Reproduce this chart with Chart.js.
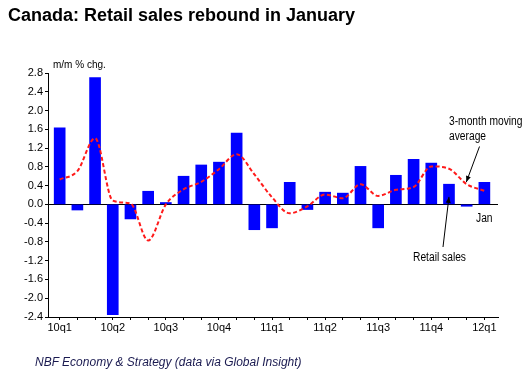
<!DOCTYPE html>
<html>
<head>
<meta charset="utf-8">
<script src="https://cdn.jsdelivr.net/npm/chart.js@4.4.1/dist/chart.umd.min.js"></script>
<style>
  html, body { margin:0; padding:0; background:#fff; }
  #wrap { position:relative; width:531px; height:374px; overflow:hidden; }
  canvas { position:absolute; left:0; top:0; }
  .t { position:absolute; white-space:nowrap; font-family:"Liberation Sans", Arial, sans-serif; color:#000; }
  .narrow { transform:scaleX(0.82); transform-origin:0 0; }
</style>
</head>
<body>
<div id="wrap">
  <canvas id="c" width="531" height="374"></canvas>
  <div class="t" style="left:8px;top:5px;font-size:18px;font-weight:bold;">Canada: Retail sales rebound in January</div>
  <div class="t" style="left:53px;top:59px;font-size:10px;">m/m % chg.</div>
  <div class="t narrow" style="left:449px;top:114px;font-size:12.5px;line-height:14.5px;">3-month moving<br>average</div>
  <div class="t narrow" style="left:476px;top:211px;font-size:12.5px;">Jan</div>
  <div class="t narrow" style="left:413px;top:250px;font-size:12.5px;">Retail sales</div>
  <div class="t" style="left:35px;top:355px;font-size:12px;font-style:italic;color:#1a1a50;">NBF Economy &amp; Strategy (data via Global Insight)</div>
</div>
<script>
// ---- data ----
const months = ["Jan10","Feb10","Mar10","Apr10","May10","Jun10","Jul10","Aug10","Sep10","Oct10","Nov10","Dec10",
                "Jan11","Feb11","Mar11","Apr11","May11","Jun11","Jul11","Aug11","Sep11","Oct11","Nov11","Dec11","Jan12"];
const quarterLabels = ["10q1","10q2","10q3","10q4","11q1","11q2","11q3","11q4","12q1"];
const retailSales = [1.63,-0.12,2.70,-2.35,-0.31,0.28,0.04,0.60,0.84,0.90,1.52,-0.54,
                     -0.50,0.47,-0.11,0.26,0.24,0.81,-0.50,0.62,0.96,0.88,0.43,-0.04,0.47];
const movingAvg = [0.53,0.71,1.41,0.08,0.02,-0.77,0.00,0.32,0.48,0.75,1.07,0.64,
                   0.15,-0.19,-0.04,0.21,0.13,0.43,0.18,0.31,0.37,0.81,0.76,0.43,0.29];
const yTicks = [-2.4,-2.0,-1.6,-1.2,-0.8,-0.4,0.0,0.4,0.8,1.2,1.6,2.0,2.4,2.8];

const FONT = "'Liberation Sans', Arial, sans-serif";

const arrows = {
  id: 'arrows',
  afterDatasetsDraw(chart) {
    const c = chart.ctx, x = chart.scales.x, y = chart.scales.y;
    function arrow(x0, y0, x1, y1) {
      c.save();
      c.strokeStyle = '#000'; c.fillStyle = '#000'; c.lineWidth = 1;
      c.beginPath(); c.moveTo(x0, y0); c.lineTo(x1, y1); c.stroke();
      const a = Math.atan2(y1 - y0, x1 - x0), L = 6, W = 2.5;
      c.beginPath();
      c.moveTo(x1, y1);
      c.lineTo(x1 - L*Math.cos(a) + W*Math.sin(a), y1 - L*Math.sin(a) - W*Math.cos(a));
      c.lineTo(x1 - L*Math.cos(a) - W*Math.sin(a), y1 - L*Math.sin(a) + W*Math.cos(a));
      c.closePath(); c.fill();
      c.restore();
    }
    arrow(479.5, 146.5, x.getPixelForValue(22.98), y.getPixelForValue(0.475));
    arrow(443, 247, x.getPixelForValue(22.0), y.getPixelForValue(0.16));
  }
};

new Chart(document.getElementById('c'), {
  type: 'bar',
  data: {
    datasets: [
      {
        type: 'line',
        label: '3-month moving average',
        data: movingAvg.map((v, i) => ({x: i, y: v})),
        borderColor: '#ff1a1a',
        borderWidth: 2,
        borderDash: [4, 2.5],
        pointRadius: 0,
        cubicInterpolationMode: 'monotone',
        fill: false,
        order: 0
      },
      {
        type: 'bar',
        label: 'Retail sales',
        data: retailSales.map((v, i) => ({x: i, y: v})),
        backgroundColor: '#0000ff',
        borderWidth: 0,
        barThickness: 11,
        order: 1
      }
    ]
  },
  options: {
    responsive: false,
    animation: false,
    devicePixelRatio: 1,
    layout: { padding: { top: 73, right: 33, left: 0, bottom: 0 } },
    plugins: { legend: { display: false }, tooltip: { enabled: false } },
    scales: {
      x: {
        type: 'linear',
        offset: false,
        min: -0.66,
        max: 24.77,
        afterBuildTicks(s) { s.ticks = months.map((m, i) => ({value: i})); },
        afterFit(s) { s.height = 57; s.paddingLeft = 0; s.paddingRight = 0; },
        ticks: {
          autoSkip: false,
          maxRotation: 0,
          padding: 1,
          color: '#000',
          font: { family: FONT, size: 11 },
          callback: (v) => (v % 3 === 0 ? quarterLabels[v / 3] : '')
        },
        grid: { display: true, offset: false, drawOnChartArea: false, drawTicks: true, tickLength: 3, tickColor: '#000' },
        border: { display: true, color: '#000', width: 1 }
      },
      y: {
        min: -2.4,
        max: 2.8,
        afterBuildTicks(s) { s.ticks = yTicks.map(v => ({value: v})); },
        afterFit(s) { s.width = 48; s.paddingTop = 0; s.paddingBottom = 0; },
        ticks: {
          padding: 2,
          color: '#000',
          font: { family: FONT, size: 11 },
          callback: (v) => Number(v).toFixed(1)
        },
        grid: {
          drawOnChartArea: true,
          drawTicks: true,
          tickLength: 3,
          tickColor: '#000',
          color: (ctx) => (ctx.tick && Math.abs(ctx.tick.value) < 1e-9 ? '#000' : 'rgba(0,0,0,0)'),
          lineWidth: 1
        },
        border: { display: true, color: '#000', width: 1 }
      }
    }
  },
  plugins: [arrows]
});
</script>
</body>
</html>
